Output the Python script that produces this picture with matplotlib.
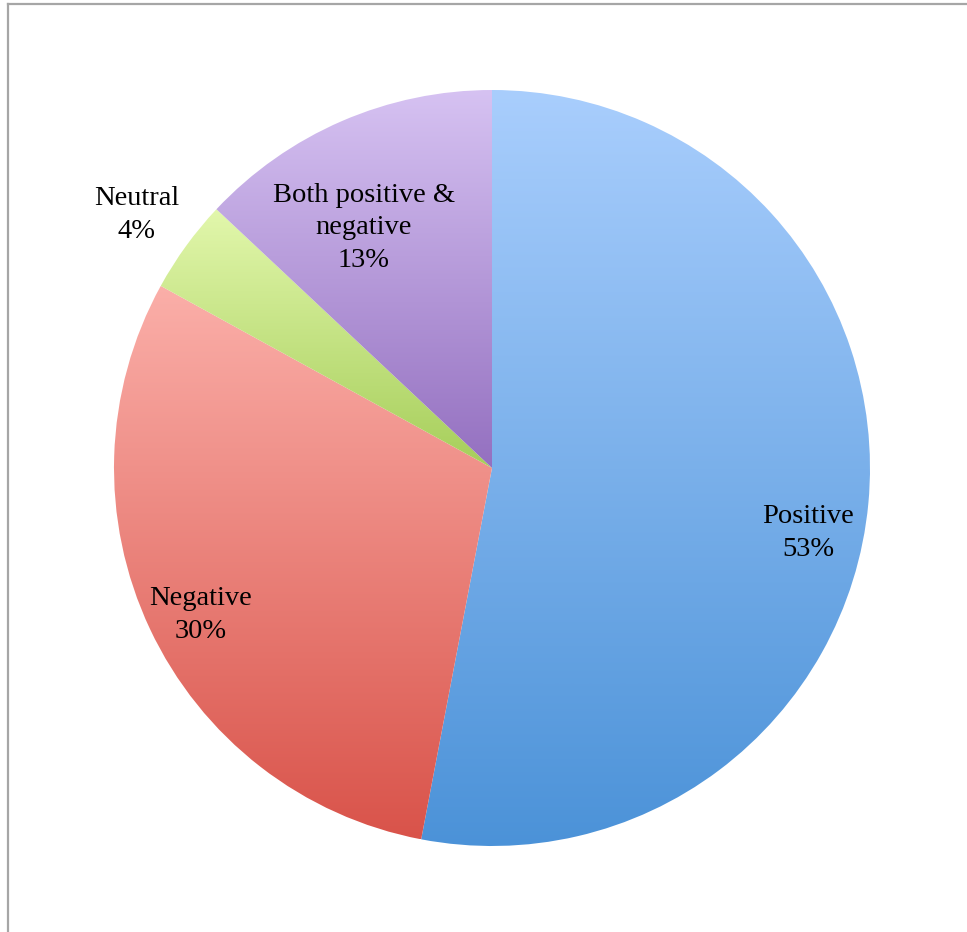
import numpy as np
import matplotlib
matplotlib.use("Agg")
import matplotlib.pyplot as plt
from matplotlib.colors import LinearSegmentedColormap
from matplotlib.lines import Line2D

categories = ["Positive", "Negative", "Neutral", "Both positive &\nnegative"]
values = [53, 30, 4, 13]
top_colors = ["#a9cefd", "#fbafa9", "#e2f7ac", "#d6c2f2"]
bottom_colors = ["#4b92d8", "#d9534a", "#a6ce5a", "#9470c0"]

W, H = 967, 932
fig = plt.figure(figsize=(W / 100, H / 100), dpi=100)
ax = fig.add_axes([0, 0, 1, 1])
ax.set_xlim(0, W)
ax.set_ylim(0, H)
ax.set_aspect("equal")
ax.axis("off")

cx, cy, R = 492, H - 468, 378
wedges, _ = ax.pie(values, startangle=90, counterclock=False,
                   center=(cx, cy), radius=R, frame=True,
                   wedgeprops=dict(linewidth=0))
ax.set_xlim(0, W)
ax.set_ylim(0, H)
ax.axis("off")

for w, tc, bc in zip(wedges, top_colors, bottom_colors):
    verts = w.get_path().vertices
    x0, y0 = verts.min(axis=0)
    x1, y1 = verts.max(axis=0)
    cmap = LinearSegmentedColormap.from_list("g", [bc, tc])
    grad = np.linspace(0, 1, 256).reshape(-1, 1)
    im = ax.imshow(grad, cmap=cmap, origin="lower", aspect="auto",
                   extent=(x0, x1, y0, y1), zorder=2, interpolation="bilinear")
    w.set_facecolor("none")
    im.set_clip_path(w)

ax.set_xlim(0, W)
ax.set_ylim(0, H)

# labels
label_pos = [(808, 533), (201, 615), (137, 215), (364, 228)]
for cat, v, (lx, ly) in zip(categories, values, label_pos):
    ax.text(lx, H - ly, f"{cat}\n{v}%", ha="center", va="center",
            fontsize=20.5, family="Liberation Serif", color="black",
            linespacing=1.42, zorder=5)

# partial frame (left and top)
fig.add_artist(Line2D([7.5 / W, 7.5 / W], [0, 1 - 3.5 / H], transform=fig.transFigure,
                      color="#a6a6a6", lw=1.6))
fig.add_artist(Line2D([7.5 / W, 1], [1 - 3.5 / H, 1 - 3.5 / H], transform=fig.transFigure,
                      color="#a6a6a6", lw=1.6))

fig.savefig("out.png", dpi=100)
